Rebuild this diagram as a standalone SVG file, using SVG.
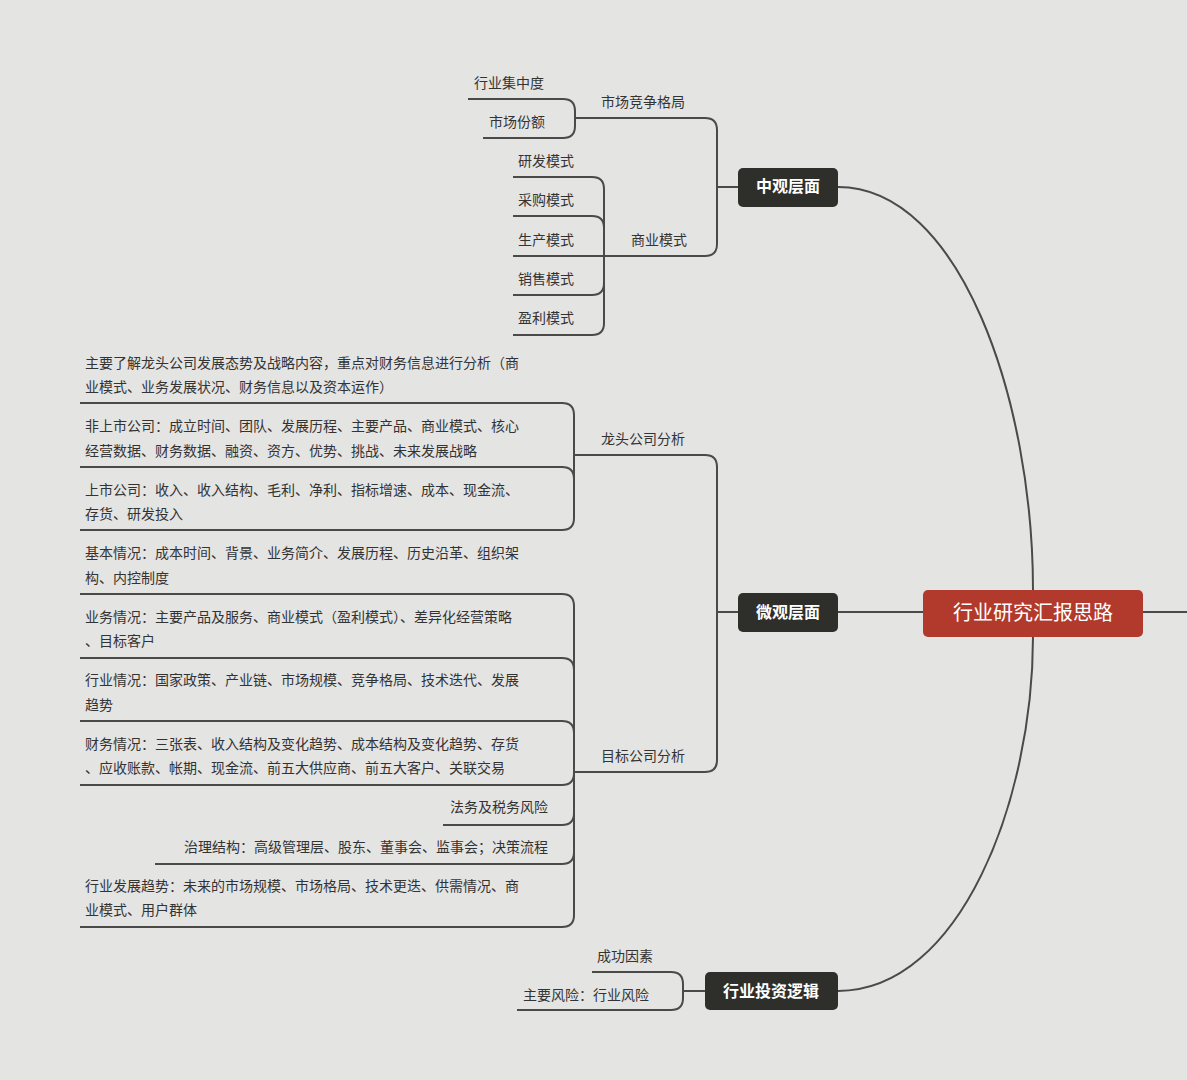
<svg xmlns="http://www.w3.org/2000/svg" width="1187" height="1080" viewBox="0 0 1187 1080">
<style>
.l{fill:none;stroke:#4a4a48;stroke-width:2}
.t{font-family:"Noto Sans CJK SC",sans-serif;font-size:14px;fill:#333}
.n{fill:#2e2f2b}
.nt{font-family:"Noto Sans CJK SC",sans-serif;font-size:16px;fill:#fff;text-anchor:middle;font-weight:bold}
.e{text-anchor:end}
</style>
<rect width="1187" height="1080" fill="#e4e4e3"/>
<g id="connectors">
<path class="l" d="M838 187 C960 187 1033 400 1033 590"/>
<path class="l" d="M838 612 H923"/>
<path class="l" d="M838 991 C960 991 1033 800 1033 637"/>
<path class="l" d="M1143 612 H1187"/>
<path class="l" d="M738 187 H717"/>
<path class="l" d="M575 118 H705 Q717 118 717 130 V244 Q717 256 705 256 H513"/>
<path class="l" d="M468 99 H563 Q575 99 575 111 V126 Q575 138 563 138 H483"/>
<path class="l" d="M604 256 V189 Q604 177 592 177 H513"/>
<path class="l" d="M604 256 V228 Q604 216 592 216 H513"/>
<path class="l" d="M604 256 V283 Q604 295 592 295 H513"/>
<path class="l" d="M604 256 V323 Q604 335 592 335 H513"/>
<path class="l" d="M738 612 H717"/>
<path class="l" d="M573 455 H705 Q717 455 717 467 V760 Q717 772 705 772 H573"/>
<path class="l" d="M574 455 V415 Q574 403 562 403 H80"/>
<path class="l" d="M574 455 V479 Q574 467 562 467 H80"/>
<path class="l" d="M574 455 V518 Q574 530 562 530 H80"/>
<path class="l" d="M574 772 V606 Q574 594 562 594 H80"/>
<path class="l" d="M574 772 V670 Q574 658 562 658 H80"/>
<path class="l" d="M574 772 V733 Q574 721 562 721 H80"/>
<path class="l" d="M574 772 V773 Q574 785 562 785 H80"/>
<path class="l" d="M574 772 V813 Q574 825 562 825 H443"/>
<path class="l" d="M574 772 V852 Q574 864 562 864 H155"/>
<path class="l" d="M574 772 V915 Q574 927 562 927 H80"/>
<path class="l" d="M705 991 H683"/>
<path class="l" d="M683 991 V984 Q683 972 671 972 H592"/>
<path class="l" d="M683 991 V998 Q683 1010 671 1010 H517"/>
</g>
<g id="root"><rect x="923" y="590" width="220" height="47" rx="5" fill="#b23a2c"/><text x="1033" y="620" class="nt" style="font-size:20px;font-weight:normal">行业研究汇报思路</text></g>
<g id="meso"><rect class="n" x="738" y="168" width="100" height="39" rx="5"/><text x="788" y="192" class="nt">中观层面</text></g>
<g id="micro"><rect class="n" x="738" y="593" width="100" height="39" rx="5"/><text x="788" y="618" class="nt">微观层面</text></g>
<g id="invest"><rect class="n" x="705" y="972" width="133" height="38" rx="5"/><text x="771" y="997" class="nt">行业投资逻辑</text></g>
<g id="labels">
<text class="t" x="474" y="88">行业集中度</text>
<text class="t" x="489" y="127">市场份额</text>
<text class="t" x="601" y="107">市场竞争格局</text>
<text class="t" x="518" y="166">研发模式</text>
<text class="t" x="518" y="205">采购模式</text>
<text class="t" x="518" y="245">生产模式</text>
<text class="t" x="518" y="284">销售模式</text>
<text class="t" x="518" y="323">盈利模式</text>
<text class="t" x="631" y="245">商业模式</text>
<text class="t" x="601" y="444">龙头公司分析</text>
<text class="t" x="601" y="761">目标公司分析</text>
<text class="t" x="85" y="368">主要了解龙头公司发展态势及战略内容，重点对财务信息进行分析（商</text>
<text class="t" x="85" y="392">业模式、业务发展状况、财务信息以及资本运作）</text>
<text class="t" x="85" y="431">非上市公司：成立时间、团队、发展历程、主要产品、商业模式、核心</text>
<text class="t" x="85" y="456">经营数据、财务数据、融资、资方、优势、挑战、未来发展战略</text>
<text class="t" x="85" y="495">上市公司：收入、收入结构、毛利、净利、指标增速、成本、现金流、</text>
<text class="t" x="85" y="519">存货、研发投入</text>
<text class="t" x="85" y="558">基本情况：成本时间、背景、业务简介、发展历程、历史沿革、组织架</text>
<text class="t" x="85" y="583">构、内控制度</text>
<text class="t" x="85" y="622">业务情况：主要产品及服务、商业模式（盈利模式）、差异化经营策略</text>
<text class="t" x="85" y="646">、目标客户</text>
<text class="t" x="85" y="685">行业情况：国家政策、产业链、市场规模、竞争格局、技术迭代、发展</text>
<text class="t" x="85" y="710">趋势</text>
<text class="t" x="85" y="749">财务情况：三张表、收入结构及变化趋势、成本结构及变化趋势、存货</text>
<text class="t" x="85" y="773">、应收账款、帐期、现金流、前五大供应商、前五大客户、关联交易</text>
<text class="t e" x="548" y="812">法务及税务风险</text>
<text class="t e" x="548" y="852">治理结构：高级管理层、股东、董事会、监事会；决策流程</text>
<text class="t" x="85" y="891">行业发展趋势：未来的市场规模、市场格局、技术更迭、供需情况、商</text>
<text class="t" x="85" y="915">业模式、用户群体</text>
<text class="t" x="597" y="961">成功因素</text>
<text class="t" x="523" y="1000">主要风险：行业风险</text>
</g>
</svg>
